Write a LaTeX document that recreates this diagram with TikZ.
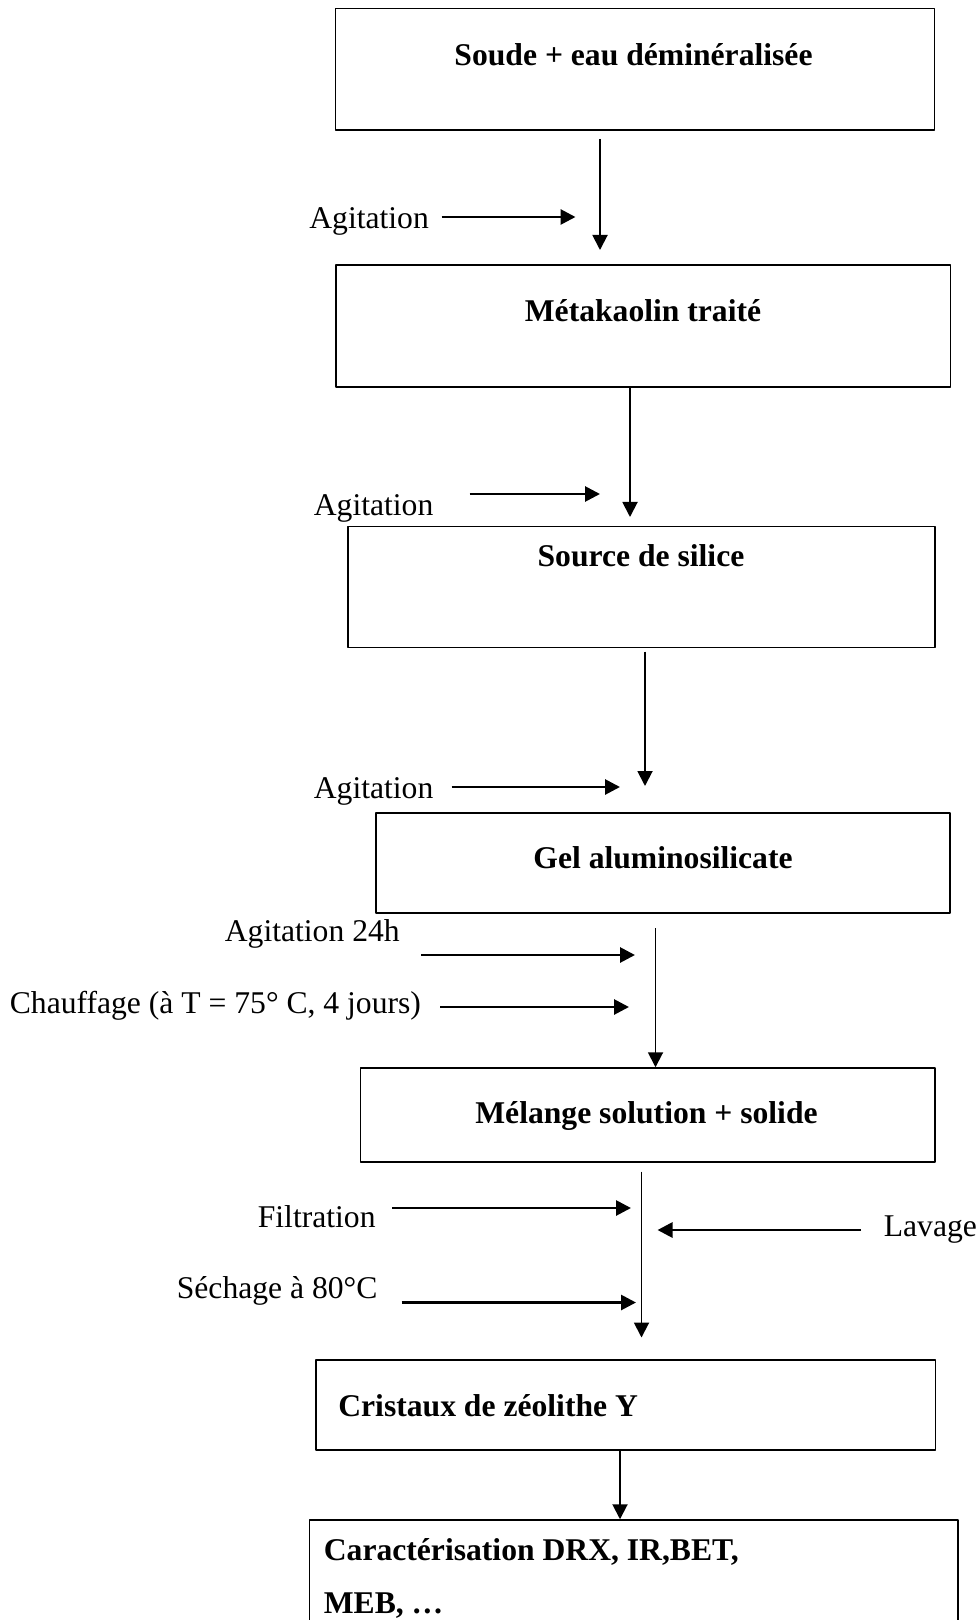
\documentclass[tikz,border=0pt]{standalone}
\usepackage{fontspec}
\setmainfont{Liberation Serif}
\usepackage{tikz}
\usetikzlibrary{arrows.meta,calc}
\usetikzlibrary{positioning}
\newcommand{\flowfont}{\fontsize{18}{22}\selectfont}
\tikzset{stage/.style={draw,line width=0.85pt,inner sep=0pt},
  btxt/.style={font=\flowfont\bfseries,anchor=base,inner sep=0pt},
  opl/.style={anchor=base west,inner sep=0pt}}

\begin{document}
\begin{tikzpicture}[line join=round,font=\flowfont,
  vflow/.style={-{Triangle[length=0.3cm,width=0.3cm]},line width=1.1pt},
  hflow/.style={-{Triangle[length=0.3cm,width=0.3cm]},line width=1.6pt}]
\useasboundingbox (0,0) rectangle (19.58,-32.4);
% --- process stages
\node[stage,minimum width=11.98cm,minimum height=2.43cm] (b1) at (12.70,-1.39) {};
\node[stage,minimum width=12.29cm,minimum height=2.44cm] (b2) at (12.86,-6.52) {};
\node[stage,minimum width=11.74cm,minimum height=2.41cm] (b3) at (12.83,-11.74) {};
\node[stage,minimum width=11.48cm,minimum height=2.00cm] (b4) at (13.26,-17.26) {};
\node[stage,minimum width=11.49cm,minimum height=1.88cm] (b5) at (12.95,-22.30) {};
\node[stage,minimum width=12.39cm,minimum height=1.80cm] (b6) at (12.51,-28.10) {};
\node[stage,minimum width=12.97cm,minimum height=2.80cm] (b7) at (12.67,-31.80) {};
\node[btxt] (t1) at (12.67,-1.32) {Soude + eau déminéralisée};
\node[btxt] (t2) at (12.86,-6.43) {Métakaolin traité};
\node[btxt] (t3) at (12.82,-11.33) {Source de silice};
\node[btxt] (t4) at (13.26,-17.36) {Gel aluminosilicate};
\node[btxt] (t5) at (12.93,-22.46) {Mélange solution + solide};
\node[btxt,anchor=base west] (t6) at (6.76,-28.33) {Cristaux de zéolithe Y};
\node[btxt,anchor=base west] (t7a) at (6.47,-31.20) {Caractérisation DRX, IR,BET,};
\node[btxt,anchor=base west] (t7b) at (6.47,-32.26) {MEB, …};
% --- operations
\node[opl] (o1) at (6.18,-4.58) {Agitation};
\node[opl] (o2) at (6.27,-10.30) {Agitation};
\node[opl] (o3) at (6.27,-15.96) {Agitation};
\node[opl] (o4) at (4.49,-18.83) {Agitation 24h};
\node[opl] (o5) at (0.19,-20.26) {Chauffage (à T = 75° C, 4 jours)};
\node[opl] (o6) at (5.15,-24.54) {Filtration};
\node[opl] (o7) at (17.67,-24.73) {Lavage};
\node[opl] (o8) at (3.53,-25.96) {Séchage à 80°C};
% --- main flow
\coordinate (v1a) at (12.00,-2.78); \coordinate (v1b) at (12.00,-5.00);
\coordinate (v2a) at (12.60,-7.74); \coordinate (v2b) at (12.60,-10.34);
\coordinate (v3a) at (12.90,-13.03); \coordinate (v3b) at (12.90,-15.72);
\coordinate (v4a) at (13.11,-18.56); \coordinate (v5a) at (12.83,-23.43);
\coordinate (v5b) at (12.83,-26.75); \coordinate (v6) at (12.40,0);
\draw[vflow] (v1a) -- (v1b);
\draw[vflow] (v2a) -- (v2b);
\draw[vflow] (v3a) -- (v3b);
\draw[vflow] (v4a) -- (v4a |- b5.north);
\draw[vflow] (v5a) -- (v5b);
\draw[vflow] (v6 |- b6.south) -- (v6 |- b7.north);
% --- side inputs
\coordinate (s1) at (8.83,-4.34);   \coordinate (h1) at (11.51,-4.34);
\coordinate (s2) at (9.39,-9.88);   \coordinate (h2) at (12.00,-9.88);
\coordinate (s3) at (9.03,-15.74);  \coordinate (h3) at (12.40,-15.74);
\coordinate (s4) at (8.42,-19.10);  \coordinate (h4) at (12.70,-19.10);
\coordinate (s5) at (8.80,-20.14);  \coordinate (h5) at (12.58,-20.14);
\coordinate (s6) at (7.84,-24.16);  \coordinate (h6) at (12.62,-24.16);
\coordinate (s7) at (17.22,-24.60); \coordinate (h7) at (13.15,-24.60);
\coordinate (s8) at (8.03,-26.05);  \coordinate (h8) at (12.72,-26.05);
\foreach \i in {1,...,8}
  \draw[hflow] (s\i) -- (h\i);
\end{tikzpicture}
\end{document}
